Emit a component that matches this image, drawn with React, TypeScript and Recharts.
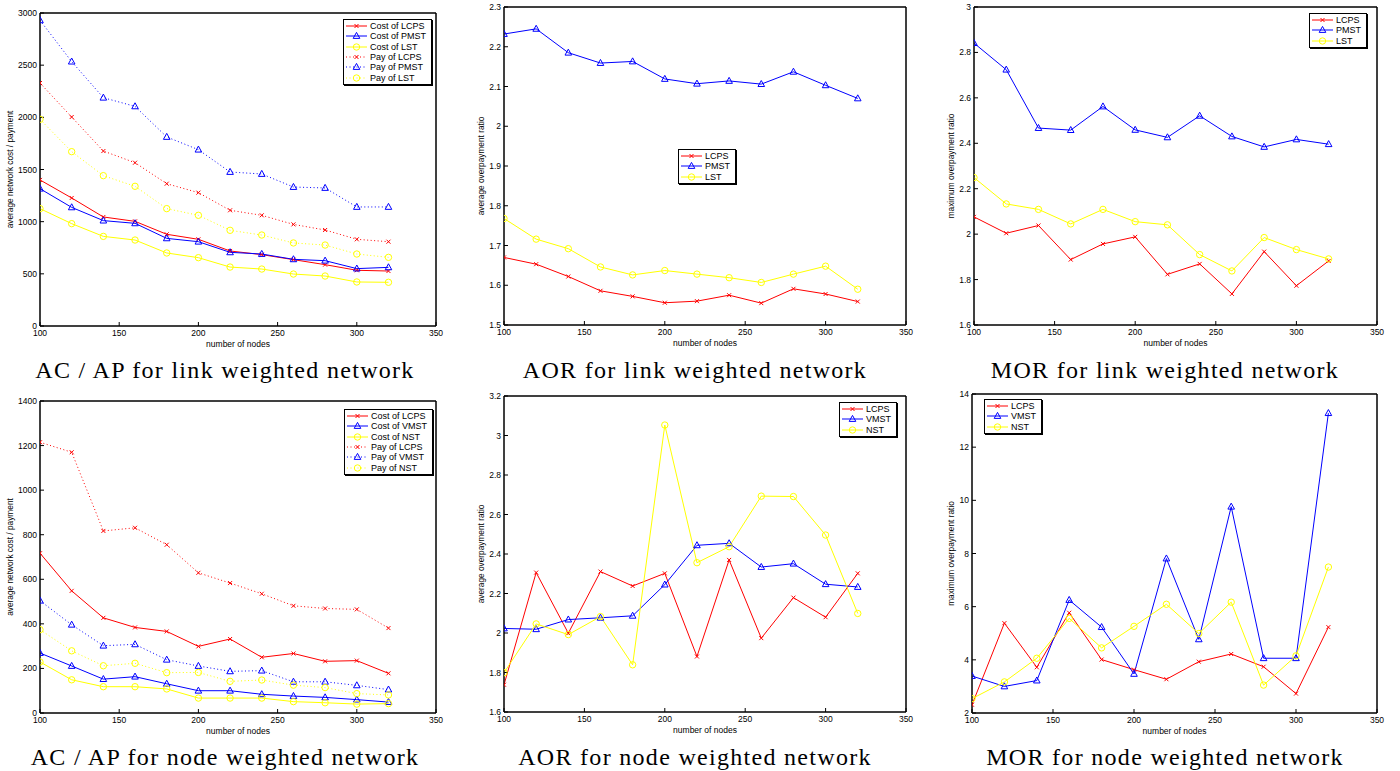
import React from "react";
import { LineChart, Line, XAxis, YAxis, Legend, ReferenceArea } from "recharts";

const nodes = [100, 120, 140, 160, 180, 200, 220, 240, 260, 280, 300, 320];
const xTicks = [100, 150, 200, 250, 300, 350];

// AC / AP, link weighted network
const linkCostLCPS = [1400, 1227, 1045, 1003, 879, 831, 719, 684, 636, 588, 534, 527];
const linkCostPMST = [1316, 1137, 1010, 984, 840, 808, 706, 690, 639, 626, 550, 562];
const linkCostLST = [1125, 981, 859, 824, 700, 655, 565, 546, 498, 479, 422, 419];
const linkPayLCPS = [2329, 2003, 1677, 1565, 1364, 1278, 1109, 1061, 974, 920, 831, 808];
const linkPayPMST = [2930, 2534, 2188, 2105, 1812, 1690, 1476, 1457, 1332, 1323, 1141, 1141];
const linkPayLST = [1981, 1671, 1441, 1339, 1125, 1061, 917, 872, 796, 776, 690, 658];
const acLinkTicks = [0, 500, 1000, 1500, 2000, 2500, 3000];

// AOR, link weighted network
const aorLinkLCPS = [1.67, 1.653, 1.622, 1.586, 1.572, 1.556, 1.56, 1.575, 1.555, 1.591, 1.578, 1.559];
const aorLinkPMST = [2.232, 2.245, 2.185, 2.159, 2.163, 2.119, 2.107, 2.114, 2.106, 2.137, 2.103, 2.07];
const aorLinkLST = [1.768, 1.716, 1.692, 1.646, 1.626, 1.637, 1.628, 1.619, 1.607, 1.628, 1.648, 1.59];
const aorLinkTicks = [1.5, 1.6, 1.7, 1.8, 1.9, 2, 2.1, 2.2, 2.3];

// MOR, link weighted network
const morLinkLCPS = [2.076, 2.004, 2.038, 1.888, 1.957, 1.988, 1.823, 1.869, 1.737, 1.923, 1.773, 1.882];
const morLinkPMST = [2.841, 2.724, 2.467, 2.458, 2.562, 2.459, 2.426, 2.521, 2.43, 2.384, 2.417, 2.396];
const morLinkLST = [2.249, 2.133, 2.109, 2.045, 2.109, 2.055, 2.041, 1.91, 1.838, 1.985, 1.932, 1.891];
const morLinkTicks = [1.6, 1.8, 2, 2.2, 2.4, 2.6, 2.8, 3];

// AC / AP, node weighted network
const nodeCostLCPS = [717, 548, 427, 384, 366, 299, 332, 250, 267, 232, 235, 178];
const nodeCostVMST = [269, 211, 152, 163, 131, 100, 100, 84, 76, 70, 60, 49];
const nodeCostNST = [229, 149, 118, 118, 108, 67, 67, 67, 51, 46, 40, 42];
const nodePayLCPS = [1215, 1170, 817, 831, 755, 629, 583, 535, 481, 469, 465, 381];
const nodePayVMST = [504, 396, 302, 308, 239, 211, 187, 190, 140, 140, 124, 105];
const nodePayNST = [374, 279, 212, 223, 181, 182, 142, 148, 125, 114, 87, 81];
const acNodeTicks = [0, 200, 400, 600, 800, 1000, 1200, 1400];

// AOR, node weighted network
const aorNodeLCPS = [1.738, 2.306, 1.999, 2.311, 2.238, 2.302, 1.881, 2.37, 1.974, 2.179, 2.08, 2.302];
const aorNodeVMST = [2.023, 2.019, 2.068, 2.077, 2.087, 2.245, 2.444, 2.454, 2.334, 2.351, 2.247, 2.233];
const aorNodeNST = [1.799, 2.046, 1.992, 2.083, 1.839, 3.053, 2.356, 2.437, 2.693, 2.691, 2.496, 2.099];
const aorNodeTicks = [1.6, 1.8, 2, 2.2, 2.4, 2.6, 2.8, 3, 3.2];

// MOR, node weighted network
const morNodeLCPS = [2.31, 5.38, 3.72, 5.77, 4.01, 3.63, 3.27, 3.93, 4.22, 3.74, 2.73, 5.23];
const morNodeVMST = [3.39, 3.0, 3.22, 6.25, 5.23, 3.47, 7.81, 4.77, 9.76, 4.06, 4.06, 13.28];
const morNodeNST = [2.54, 3.17, 4.06, 5.56, 4.45, 5.26, 6.09, 4.99, 6.17, 3.05, 4.15, 7.49];
const morNodeTicks = [2, 4, 6, 8, 10, 12, 14];

const RED = "#ff0000";
const BLUE = "#0000ff";
const YELLOW = "#ffff00";
const SANS = "'Liberation Sans', Arial, Helvetica, sans-serif";
const DOTS = "1 2.5";

type Kind = "x" | "tri" | "o";
type Series = { name: string; values: number[]; color: string; marker: Kind; dotted?: boolean };

function Marker({ kind, cx, cy, color }: { kind: Kind; cx: number; cy: number; color: string }) {
  if (kind === "x") {
    return (
      <g stroke={color} strokeWidth={1}>
        <line x1={cx - 2} y1={cy - 2} x2={cx + 2} y2={cy + 2} />
        <line x1={cx - 2} y1={cy + 2} x2={cx + 2} y2={cy - 2} />
      </g>
    );
  }
  if (kind === "tri") {
    return (
      <polygon
        points={`${cx},${cy - 3.6} ${cx - 3.3},${cy + 2.4} ${cx + 3.3},${cy + 2.4}`}
        fill="none"
        stroke={color}
        strokeWidth={1}
      />
    );
  }
  return <circle cx={cx} cy={cy} r={3.2} fill="none" stroke={color} strokeWidth={1} />;
}

function Panel(props: {
  plot: { left: number; top: number; width: number; height: number };
  series: Series[];
  domain: [number, number];
  ticks: number[];
  yLabel: string;
  yLabelGap: number;
  legend: { x: number; y: number };
}) {
  const { plot, series, domain, ticks, yLabel, yLabelGap, legend } = props;
  const yw = 40;
  const mt = 6;
  const xh = 34;
  const data = nodes.map((n, i) => {
    const row: any = { n };
    series.forEach((s, k) => (row[`s${k}`] = s.values[i]));
    return row;
  });
  const boxLeft = plot.left - yw;
  const boxTop = plot.top - mt;

  const legendContent = () => (
    <div
      style={{
        border: "1px solid #000",
        boxShadow: "1px 1px 0 #000",
        background: "#fff",
        padding: "1px 5px 1px 2px",
        fontFamily: SANS,
        fontSize: 9,
        color: "#000",
      }}
    >
      {series.map((s) => (
        <div key={s.name} style={{ display: "flex", alignItems: "center", height: 10.3, whiteSpace: "nowrap" }}>
          <svg width={21} height={10} style={{ display: "block" }}>
            <line x1={0} x2={21} y1={5} y2={5} stroke={s.color} strokeDasharray={s.dotted ? DOTS : undefined} />
            <Marker kind={s.marker} cx={10.5} cy={5} color={s.color} />
          </svg>
          <span style={{ marginLeft: 3, lineHeight: "10px" }}>{s.name}</span>
        </div>
      ))}
    </div>
  );

  const tickStyle = { fill: "#000", fontSize: 8.5, fontFamily: SANS };

  return (
    <div style={{ position: "absolute", left: boxLeft, top: boxTop }}>
      <LineChart
        width={plot.width + yw + 8}
        height={plot.height + mt + xh}
        data={data}
        margin={{ top: mt, right: 8, bottom: 0, left: 0 }}
      >
        <XAxis
          dataKey="n"
          type="number"
          domain={[100, 350]}
          ticks={xTicks}
          allowDataOverflow
          height={xh}
          tickSize={-4}
          tickMargin={8}
          tick={tickStyle}
          stroke="#000"
          label={{
            content: (p: any) => (
              <text
                x={p.viewBox.x + p.viewBox.width / 2}
                y={p.viewBox.y + 21}
                textAnchor="middle"
                fontSize={8.5}
                fontFamily={SANS}
                fill="#000"
              >
                number of nodes
              </text>
            ),
          }}
        />
        <XAxis
          xAxisId="top"
          dataKey="n"
          orientation="top"
          type="number"
          domain={[100, 350]}
          ticks={xTicks}
          allowDataOverflow
          mirror
          height={1}
          tick={false}
          tickSize={4}
          stroke="#000"
        />
        <YAxis
          type="number"
          domain={domain}
          ticks={ticks}
          allowDataOverflow
          width={yw}
          tickSize={-4}
          tickMargin={7}
          tick={tickStyle}
          tickFormatter={(v: number) => String(v)}
          stroke="#000"
          label={{
            content: (p: any) => {
              const x = p.viewBox.x + p.viewBox.width - yLabelGap;
              const y = p.viewBox.y + p.viewBox.height / 2;
              return (
                <text
                  x={x}
                  y={y}
                  transform={`rotate(-90 ${x} ${y})`}
                  textAnchor="middle"
                  dominantBaseline="middle"
                  fontSize={8.3}
                  fontFamily={SANS}
                  fill="#000"
                >
                  {yLabel}
                </text>
              );
            },
          }}
        />
        <YAxis
          yAxisId="right"
          orientation="right"
          type="number"
          domain={domain}
          ticks={ticks}
          allowDataOverflow
          mirror
          width={1}
          tick={false}
          tickSize={4}
          stroke="#000"
        />
        <ReferenceArea
          x1={100}
          x2={350}
          y1={domain[0]}
          y2={domain[1]}
          fill="none"
          fillOpacity={0}
          stroke="#000"
          strokeWidth={1}
          ifOverflow="visible"
        />
        {series.map((s, k) => (
          <Line
            key={s.name}
            type="linear"
            dataKey={`s${k}`}
            name={s.name}
            stroke={s.color}
            strokeWidth={1}
            strokeDasharray={s.dotted ? DOTS : undefined}
            isAnimationActive={false}
            activeDot={false}
            dot={(p: any) => <Marker key={`${s.name}-${p.index}`} kind={s.marker} cx={p.cx} cy={p.cy} color={s.color} />}
          />
        ))}
        <Legend
          layout="vertical"
          align="center"
          verticalAlign="middle"
          content={legendContent}
          wrapperStyle={{ left: legend.x - boxLeft, top: legend.y - boxTop, width: "auto", height: "auto" }}
        />
      </LineChart>
    </div>
  );
}

const captions = [
  { text: "AC / AP for link weighted network", x: 225, y: 378 },
  { text: "AOR for link weighted network", x: 695, y: 378 },
  { text: "MOR for link weighted network", x: 1165, y: 378 },
  { text: "AC / AP for node weighted network", x: 225, y: 765 },
  { text: "AOR for node weighted network", x: 695, y: 765 },
  { text: "MOR for node weighted network", x: 1165, y: 765 },
];

export default function App() {
  return (
    <div style={{ position: "absolute", left: 0, top: 0, width: 1400, height: 771, background: "#fff", overflow: "hidden" }}>
      <Panel
        plot={{ left: 40, top: 13, width: 396, height: 313 }}
        domain={[0, 3000]}
        ticks={acLinkTicks}
        yLabel="average network cost / payment"
        yLabelGap={29}
        legend={{ x: 343, y: 19 }}
        series={[
          { name: "Cost of LCPS", values: linkCostLCPS, color: RED, marker: "x" },
          { name: "Cost of PMST", values: linkCostPMST, color: BLUE, marker: "tri" },
          { name: "Cost of LST", values: linkCostLST, color: YELLOW, marker: "o" },
          { name: "Pay of LCPS", values: linkPayLCPS, color: RED, marker: "x", dotted: true },
          { name: "Pay of PMST", values: linkPayPMST, color: BLUE, marker: "tri", dotted: true },
          { name: "Pay of LST", values: linkPayLST, color: YELLOW, marker: "o", dotted: true },
        ]}
      />
      <Panel
        plot={{ left: 504, top: 7, width: 402, height: 318 }}
        domain={[1.5, 2.3]}
        ticks={aorLinkTicks}
        yLabel="average overpayment ratio"
        yLabelGap={22}
        legend={{ x: 678, y: 149 }}
        series={[
          { name: "LCPS", values: aorLinkLCPS, color: RED, marker: "x" },
          { name: "PMST", values: aorLinkPMST, color: BLUE, marker: "tri" },
          { name: "LST", values: aorLinkLST, color: YELLOW, marker: "o" },
        ]}
      />
      <Panel
        plot={{ left: 974, top: 7, width: 403, height: 318 }}
        domain={[1.6, 3]}
        ticks={morLinkTicks}
        yLabel="maximum overpayment ratio"
        yLabelGap={22}
        legend={{ x: 1309, y: 13 }}
        series={[
          { name: "LCPS", values: morLinkLCPS, color: RED, marker: "x" },
          { name: "PMST", values: morLinkPMST, color: BLUE, marker: "tri" },
          { name: "LST", values: morLinkLST, color: YELLOW, marker: "o" },
        ]}
      />
      <Panel
        plot={{ left: 40, top: 401, width: 396, height: 312 }}
        domain={[0, 1400]}
        ticks={acNodeTicks}
        yLabel="average network cost / payment"
        yLabelGap={29}
        legend={{ x: 344, y: 409 }}
        series={[
          { name: "Cost of LCPS", values: nodeCostLCPS, color: RED, marker: "x" },
          { name: "Cost of VMST", values: nodeCostVMST, color: BLUE, marker: "tri" },
          { name: "Cost of NST", values: nodeCostNST, color: YELLOW, marker: "o" },
          { name: "Pay of LCPS", values: nodePayLCPS, color: RED, marker: "x", dotted: true },
          { name: "Pay of VMST", values: nodePayVMST, color: BLUE, marker: "tri", dotted: true },
          { name: "Pay of NST", values: nodePayNST, color: YELLOW, marker: "o", dotted: true },
        ]}
      />
      <Panel
        plot={{ left: 504, top: 396, width: 402, height: 316 }}
        domain={[1.6, 3.2]}
        ticks={aorNodeTicks}
        yLabel="average overpayment ratio"
        yLabelGap={22}
        legend={{ x: 839, y: 402 }}
        series={[
          { name: "LCPS", values: aorNodeLCPS, color: RED, marker: "x" },
          { name: "VMST", values: aorNodeVMST, color: BLUE, marker: "tri" },
          { name: "NST", values: aorNodeNST, color: YELLOW, marker: "o" },
        ]}
      />
      <Panel
        plot={{ left: 972, top: 394, width: 405, height: 319 }}
        domain={[2, 14]}
        ticks={morNodeTicks}
        yLabel="maximum overpayment ratio"
        yLabelGap={20}
        legend={{ x: 984, y: 399 }}
        series={[
          { name: "LCPS", values: morNodeLCPS, color: RED, marker: "x" },
          { name: "VMST", values: morNodeVMST, color: BLUE, marker: "tri" },
          { name: "NST", values: morNodeNST, color: YELLOW, marker: "o" },
        ]}
      />
      <svg width={1400} height={771} style={{ position: "absolute", left: 0, top: 0, pointerEvents: "none" }}>
        {captions.map((c) => (
          <text
            key={c.text}
            x={c.x}
            y={c.y}
            textAnchor="middle"
            fontFamily="'Liberation Serif', 'Times New Roman', serif"
            fontSize={24}
            letterSpacing={1.3}
            fill="#000"
          >
            {c.text}
          </text>
        ))}
      </svg>
    </div>
  );
}
